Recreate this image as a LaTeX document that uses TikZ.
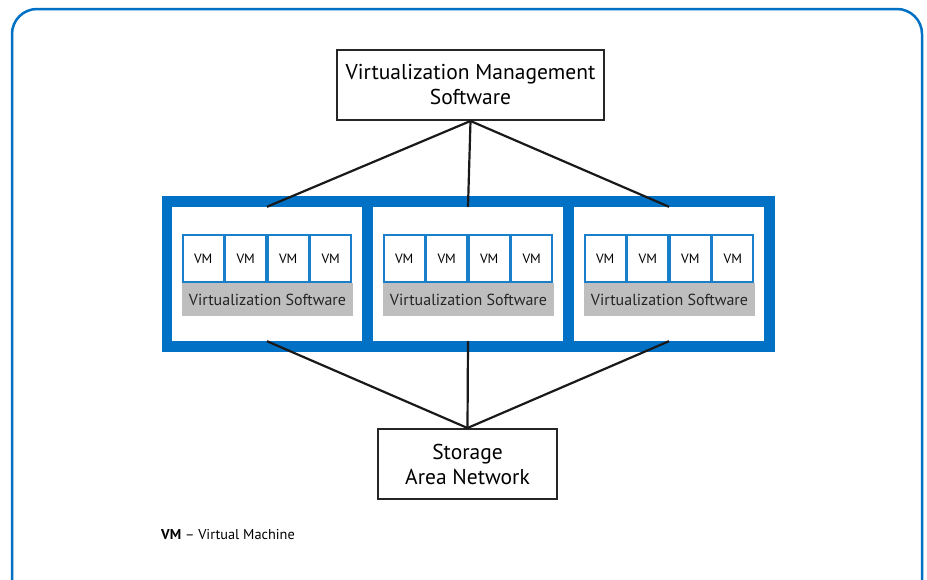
\documentclass[tikz,border=0pt]{standalone}
\usepackage{fontspec}
\setmainfont{PT Sans}
\definecolor{vblue}{HTML}{0071C5}
\definecolor{vgray}{HTML}{BEBEBE}

\begin{document}
\begin{tikzpicture}[x=1pt,y=-1pt]
        \tikzstyle{every node}+=[inner sep=0pt]
        \tikzstyle{box}=[draw=black!85,line width=2pt,fill=white,align=center,font=\fontsize{21.5}{25}\selectfont]
        \tikzstyle{panel}=[fill=white,minimum width=190,minimum height=134]
        \tikzstyle{vm}=[draw=vblue!90,line width=1.8pt,fill=white,minimum width=40.7,minimum height=47.2,font=\fontsize{13.5}{15}\selectfont]
        \tikzstyle{vsw}=[fill=vgray,minimum width=171,minimum height=33,font=\fontsize{16}{18}\selectfont,text=black!85]
        \tikzstyle{link}=[black!90,line width=2.2pt]
        \useasboundingbox (0,0) rectangle (927,579);
        \clip (0,0) rectangle (927,579);
        \draw [vblue,line width=2.5pt,rounded corners=25] (12,9) rectangle (922,610);
        % hosts
        \node [fill=vblue,minimum width=613,minimum height=156] (rack) at (468.5,274) {};
        \node [panel] (h1) at (267,274) {};
        \node [panel] (h2) at (468,274) {};
        \node [panel] (h3) at (669,274) {};
        \foreach \h in {1,2,3} {
          \foreach \j in {1,2,3,4}
            \node [vm] (h\h vm\j) at ([xshift=-85+42.5*\j-21.25,yshift=15.5]h\h) {VM};
          \node [vsw] (h\h sw) at ([xshift=0.5,yshift=-25.5]h\h) {Virtualization Software};
        }
        \node [box,minimum width=267,minimum height=70] (mgmt) at (470.5,85) {Virtualization Management\\Software};
        \node [box,minimum width=179,minimum height=70] (san) at (467.5,464) {Storage\\Area Network};
        % links
        \foreach \h in {1,2,3} {
          \draw [link] (mgmt.south) -- (h\h.north);
          \draw [link] (h\h.south) -- (san.north);
        }
        \node [anchor=west,font=\fontsize{14.3}{16}\selectfont] (legend) at (161,535) {\textbf{VM} -- Virtual Machine};
        \end{tikzpicture}
\end{document}
